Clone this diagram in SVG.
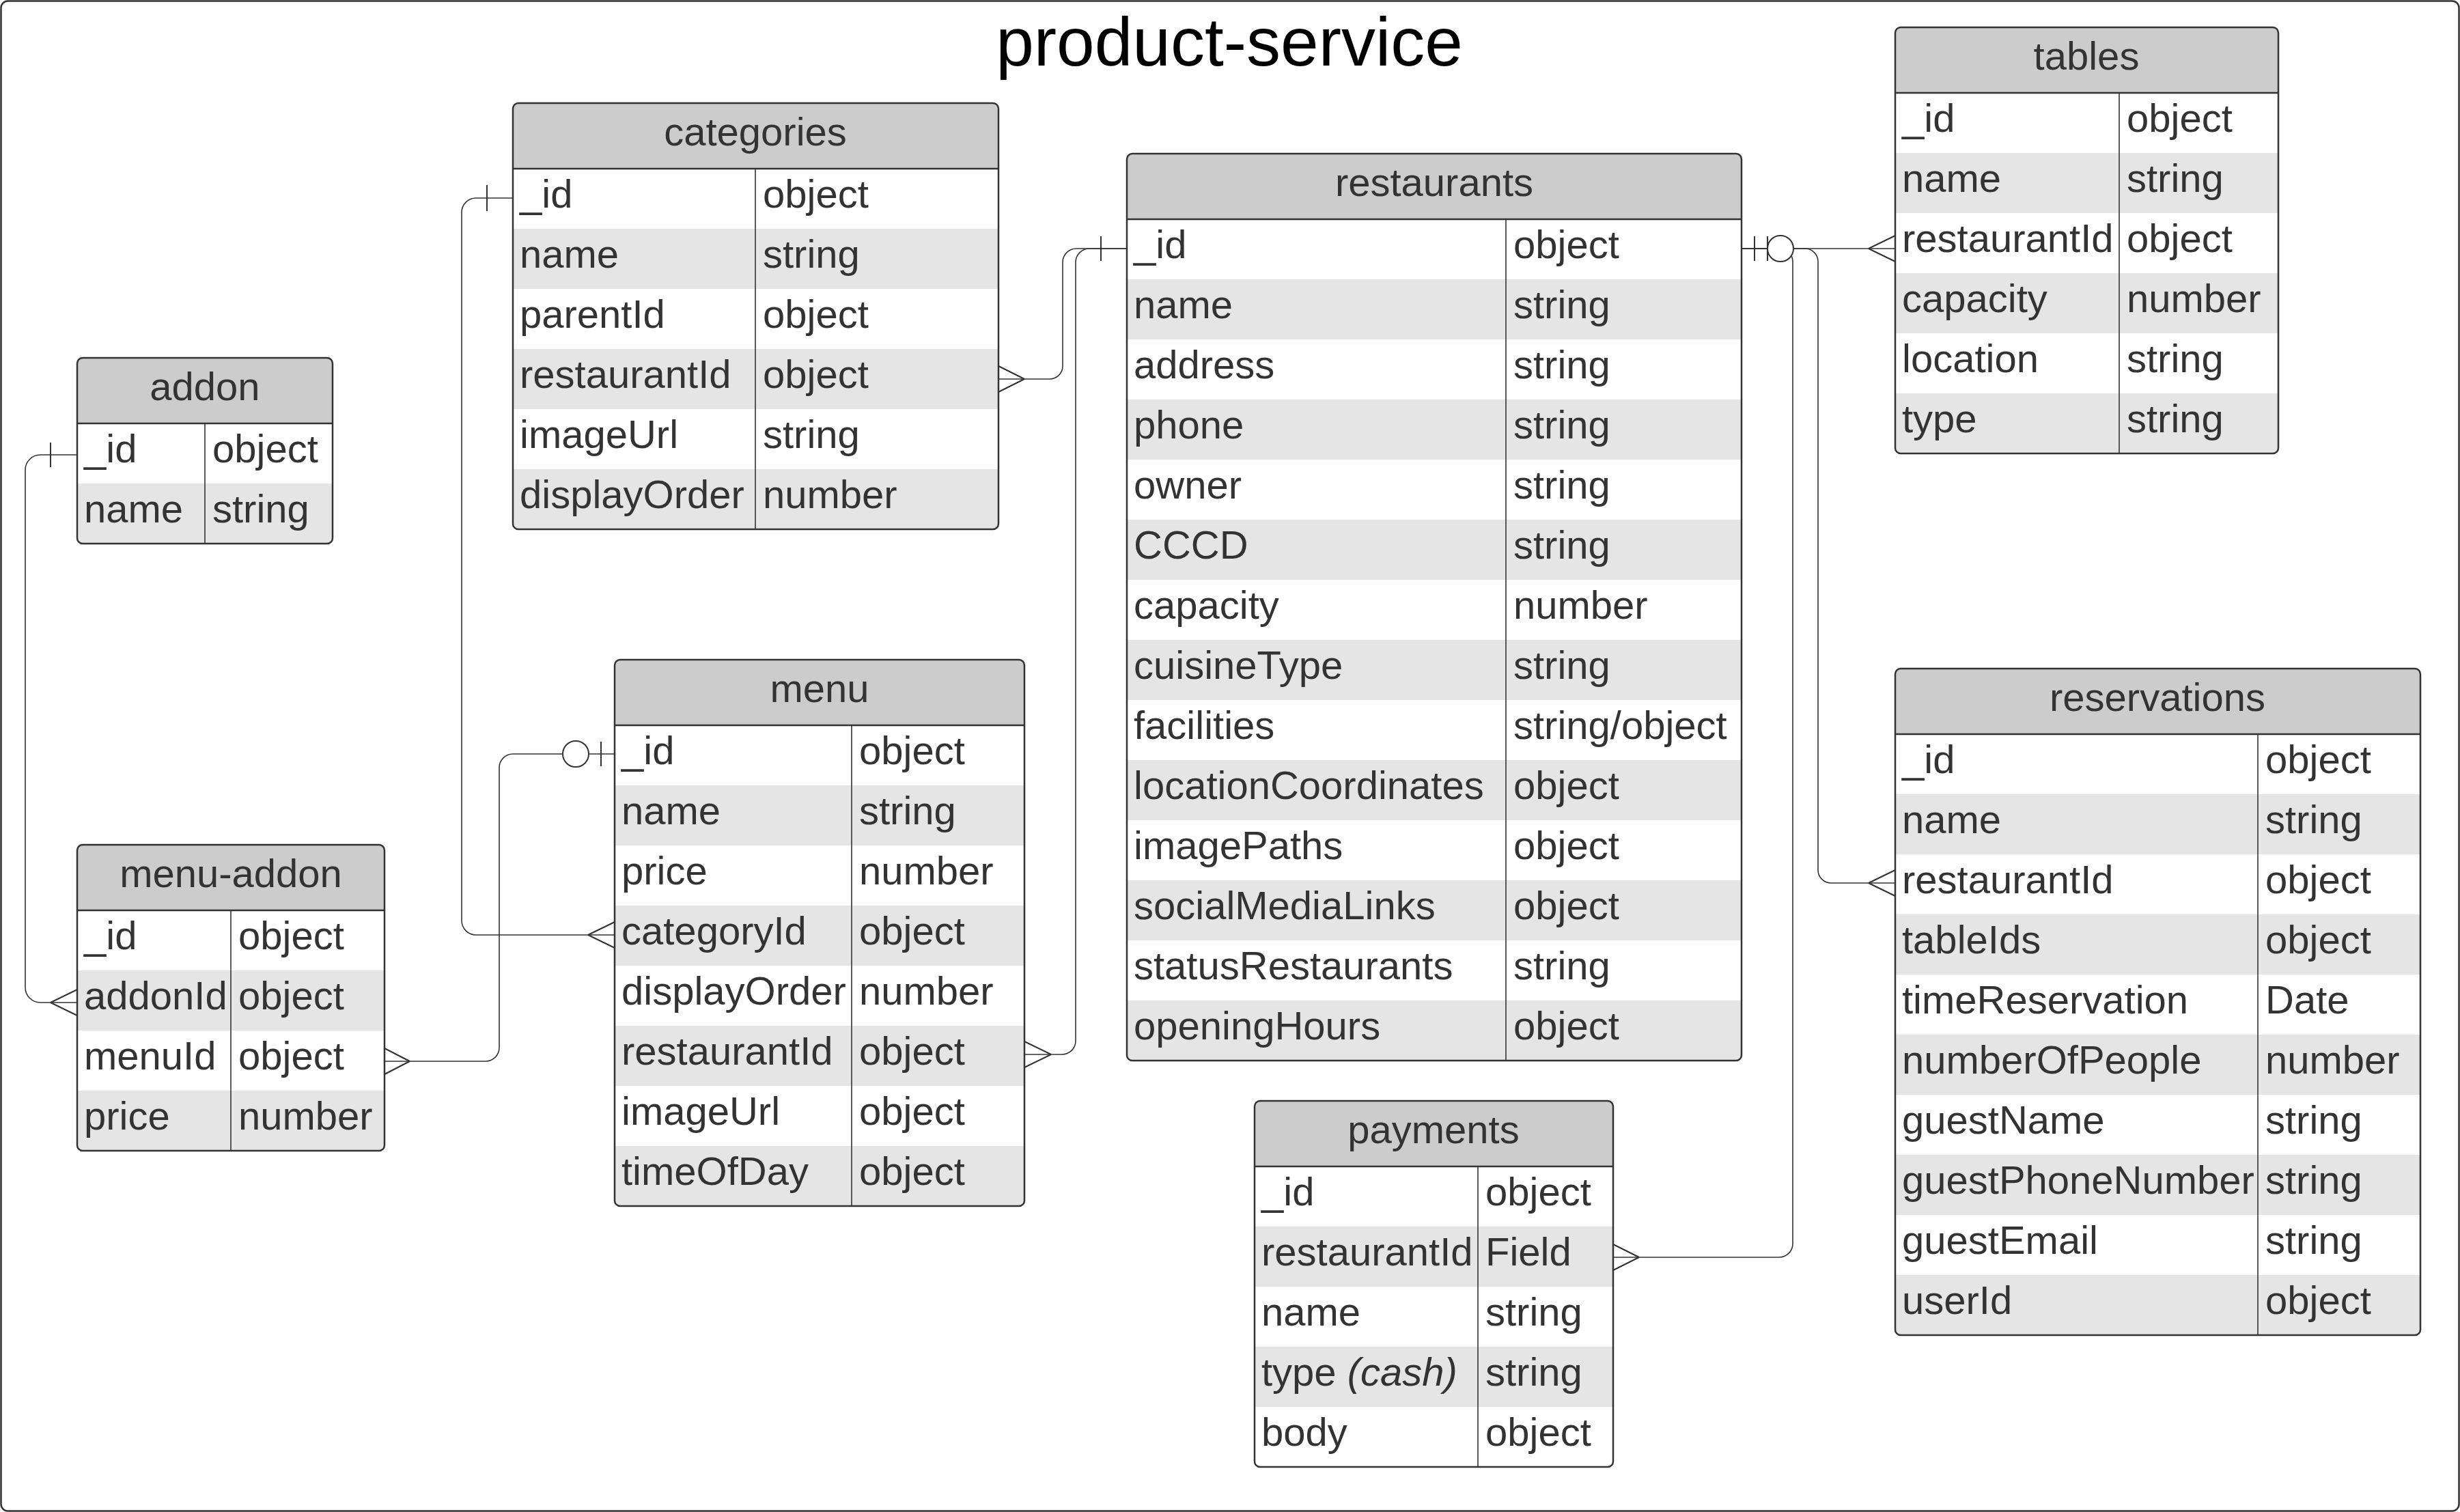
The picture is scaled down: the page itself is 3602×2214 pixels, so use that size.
<svg xmlns="http://www.w3.org/2000/svg" width="3602" height="2214" viewBox="0 0 3602 2214">
<style>
.tb{fill:#fff}
.hd{fill:#ccc}
.alt{fill:#e5e5e5}
.ol{fill:none;stroke:#333;stroke-width:2.5}
.ln{fill:none;stroke:#333;stroke-width:2.5}
.dv{fill:none;stroke:#333;stroke-width:1.6}
.t{font-family:"Liberation Sans",Arial,sans-serif;font-size:58px;fill:#333}
.h{text-anchor:middle}
.c{fill:none;stroke:#333;stroke-width:1.6}
.m{fill:none;stroke:#333;stroke-width:2}
.o{fill:#fff;stroke:#333;stroke-width:2}
</style>
<rect width="3602" height="2214" fill="#fff"/>
<rect x="1.5" y="1.5" width="3599" height="2211" rx="10" fill="none" stroke="#333" stroke-width="2.5"/>
<text x="1800" y="96" font-family="'Liberation Sans',Arial,sans-serif" font-size="100" text-anchor="middle" fill="#000">product-service</text>

<g id="addon" transform="translate(113,524)">
<rect class="tb" width="374" height="272" rx="8"/>
<path class="hd" d="M0,96V8A8,8 0 0 1 8,0H366A8,8 0 0 1 374,8V96Z"/>
<path class="alt" d="M0,184H374V264A8,8 0 0 1 366,272H8A8,8 0 0 1 0,264Z"/>
<path class="ln" d="M0,96H374"/>
<path class="dv" d="M187,96V272"/>
<rect class="ol" width="374" height="272" rx="8"/>
<text class="t h" x="187" y="62">addon</text>
<text class="t" x="10" y="153">_id</text><text class="t" x="198" y="153">object</text>
<text class="t" x="10" y="241">name</text><text class="t" x="198" y="241">string</text>
</g>

<g id="categories" transform="translate(751,151)">
<rect class="tb" width="711" height="624" rx="8"/>
<path class="hd" d="M0,96V8A8,8 0 0 1 8,0H703A8,8 0 0 1 711,8V96Z"/>
<rect class="alt" y="184" width="711" height="88"/>
<rect class="alt" y="360" width="711" height="88"/>
<path class="alt" d="M0,536H711V616A8,8 0 0 1 703,624H8A8,8 0 0 1 0,616Z"/>
<path class="ln" d="M0,96H711"/>
<path class="dv" d="M355,96V624"/>
<rect class="ol" width="711" height="624" rx="8"/>
<text class="t h" x="355" y="62">categories</text>
<text class="t" x="10" y="153">_id</text><text class="t" x="366" y="153">object</text>
<text class="t" x="10" y="241">name</text><text class="t" x="366" y="241">string</text>
<text class="t" x="10" y="329">parentId</text><text class="t" x="366" y="329">object</text>
<text class="t" x="10" y="417">restaurantId</text><text class="t" x="366" y="417">object</text>
<text class="t" x="10" y="505">imageUrl</text><text class="t" x="366" y="505">string</text>
<text class="t" x="10" y="593">displayOrder</text><text class="t" x="366" y="593">number</text>
</g>

<g id="restaurants" transform="translate(1650,225)">
<rect class="tb" width="900" height="1328" rx="8"/>
<path class="hd" d="M0,96V8A8,8 0 0 1 8,0H892A8,8 0 0 1 900,8V96Z"/>
<rect class="alt" y="184" width="900" height="88"/>
<rect class="alt" y="360" width="900" height="88"/>
<rect class="alt" y="536" width="900" height="88"/>
<rect class="alt" y="712" width="900" height="88"/>
<rect class="alt" y="888" width="900" height="88"/>
<rect class="alt" y="1064" width="900" height="88"/>
<path class="alt" d="M0,1240H900V1320A8,8 0 0 1 892,1328H8A8,8 0 0 1 0,1320Z"/>
<path class="ln" d="M0,96H900"/>
<path class="dv" d="M555,96V1328"/>
<rect class="ol" width="900" height="1328" rx="8"/>
<text class="t h" x="450" y="62">restaurants</text>
<text class="t" x="10" y="153">_id</text><text class="t" x="566" y="153">object</text>
<text class="t" x="10" y="241">name</text><text class="t" x="566" y="241">string</text>
<text class="t" x="10" y="329">address</text><text class="t" x="566" y="329">string</text>
<text class="t" x="10" y="417">phone</text><text class="t" x="566" y="417">string</text>
<text class="t" x="10" y="505">owner</text><text class="t" x="566" y="505">string</text>
<text class="t" x="10" y="593">CCCD</text><text class="t" x="566" y="593">string</text>
<text class="t" x="10" y="681">capacity</text><text class="t" x="566" y="681">number</text>
<text class="t" x="10" y="769">cuisineType</text><text class="t" x="566" y="769">string</text>
<text class="t" x="10" y="857">facilities</text><text class="t" x="566" y="857">string/object</text>
<text class="t" x="10" y="945">locationCoordinates</text><text class="t" x="566" y="945">object</text>
<text class="t" x="10" y="1033">imagePaths</text><text class="t" x="566" y="1033">object</text>
<text class="t" x="10" y="1121">socialMediaLinks</text><text class="t" x="566" y="1121">object</text>
<text class="t" x="10" y="1209">statusRestaurants</text><text class="t" x="566" y="1209">string</text>
<text class="t" x="10" y="1297">openingHours</text><text class="t" x="566" y="1297">object</text>
</g>

<g id="tables" transform="translate(2775,40)">
<rect class="tb" width="561" height="624" rx="8"/>
<path class="hd" d="M0,96V8A8,8 0 0 1 8,0H553A8,8 0 0 1 561,8V96Z"/>
<rect class="alt" y="184" width="561" height="88"/>
<rect class="alt" y="360" width="561" height="88"/>
<path class="alt" d="M0,536H561V616A8,8 0 0 1 553,624H8A8,8 0 0 1 0,616Z"/>
<path class="ln" d="M0,96H561"/>
<path class="dv" d="M328,96V624"/>
<rect class="ol" width="561" height="624" rx="8"/>
<text class="t h" x="280" y="62">tables</text>
<text class="t" x="10" y="153">_id</text><text class="t" x="339" y="153">object</text>
<text class="t" x="10" y="241">name</text><text class="t" x="339" y="241">string</text>
<text class="t" x="10" y="329">restaurantId</text><text class="t" x="339" y="329">object</text>
<text class="t" x="10" y="417">capacity</text><text class="t" x="339" y="417">number</text>
<text class="t" x="10" y="505">location</text><text class="t" x="339" y="505">string</text>
<text class="t" x="10" y="593">type</text><text class="t" x="339" y="593">string</text>
</g>

<g id="menu" transform="translate(900,966)">
<rect class="tb" width="600" height="800" rx="8"/>
<path class="hd" d="M0,96V8A8,8 0 0 1 8,0H592A8,8 0 0 1 600,8V96Z"/>
<rect class="alt" y="184" width="600" height="88"/>
<rect class="alt" y="360" width="600" height="88"/>
<rect class="alt" y="536" width="600" height="88"/>
<path class="alt" d="M0,712H600V792A8,8 0 0 1 592,800H8A8,8 0 0 1 0,792Z"/>
<path class="ln" d="M0,96H600"/>
<path class="dv" d="M347,96V800"/>
<rect class="ol" width="600" height="800" rx="8"/>
<text class="t h" x="300" y="62">menu</text>
<text class="t" x="10" y="153">_id</text><text class="t" x="358" y="153">object</text>
<text class="t" x="10" y="241">name</text><text class="t" x="358" y="241">string</text>
<text class="t" x="10" y="329">price</text><text class="t" x="358" y="329">number</text>
<text class="t" x="10" y="417">categoryId</text><text class="t" x="358" y="417">object</text>
<text class="t" x="10" y="505">displayOrder</text><text class="t" x="358" y="505">number</text>
<text class="t" x="10" y="593">restaurantId</text><text class="t" x="358" y="593">object</text>
<text class="t" x="10" y="681">imageUrl</text><text class="t" x="358" y="681">object</text>
<text class="t" x="10" y="769">timeOfDay</text><text class="t" x="358" y="769">object</text>
</g>

<g id="menu-addon" transform="translate(113,1237)">
<rect class="tb" width="450" height="448" rx="8"/>
<path class="hd" d="M0,96V8A8,8 0 0 1 8,0H442A8,8 0 0 1 450,8V96Z"/>
<rect class="alt" y="184" width="450" height="88"/>
<path class="alt" d="M0,360H450V440A8,8 0 0 1 442,448H8A8,8 0 0 1 0,440Z"/>
<path class="ln" d="M0,96H450"/>
<path class="dv" d="M225,96V448"/>
<rect class="ol" width="450" height="448" rx="8"/>
<text class="t h" x="225" y="62">menu-addon</text>
<text class="t" x="10" y="153">_id</text><text class="t" x="236" y="153">object</text>
<text class="t" x="10" y="241">addonId</text><text class="t" x="236" y="241">object</text>
<text class="t" x="10" y="329">menuId</text><text class="t" x="236" y="329">object</text>
<text class="t" x="10" y="417">price</text><text class="t" x="236" y="417">number</text>
</g>

<g id="payments" transform="translate(1837,1612)">
<rect class="tb" width="525" height="536" rx="8"/>
<path class="hd" d="M0,96V8A8,8 0 0 1 8,0H517A8,8 0 0 1 525,8V96Z"/>
<rect class="alt" y="184" width="525" height="88"/>
<rect class="alt" y="360" width="525" height="88"/>
<path class="ln" d="M0,96H525"/>
<path class="dv" d="M327,96V536"/>
<rect class="ol" width="525" height="536" rx="8"/>
<text class="t h" x="262" y="62">payments</text>
<text class="t" x="10" y="153">_id</text><text class="t" x="338" y="153">object</text>
<text class="t" x="10" y="241">restaurantId</text><text class="t" x="338" y="241">Field</text>
<text class="t" x="10" y="329">name</text><text class="t" x="338" y="329">string</text>
<text class="t" x="10" y="417">type <tspan font-style="italic">(cash)</tspan></text><text class="t" x="338" y="417">string</text>
<text class="t" x="10" y="505">body</text><text class="t" x="338" y="505">object</text>
</g>

<g id="reservations" transform="translate(2775,979)">
<rect class="tb" width="769" height="976" rx="8"/>
<path class="hd" d="M0,96V8A8,8 0 0 1 8,0H761A8,8 0 0 1 769,8V96Z"/>
<rect class="alt" y="184" width="769" height="88"/>
<rect class="alt" y="360" width="769" height="88"/>
<rect class="alt" y="536" width="769" height="88"/>
<rect class="alt" y="712" width="769" height="88"/>
<path class="alt" d="M0,888H769V968A8,8 0 0 1 761,976H8A8,8 0 0 1 0,968Z"/>
<path class="ln" d="M0,96H769"/>
<path class="dv" d="M531,96V976"/>
<rect class="ol" width="769" height="976" rx="8"/>
<text class="t h" x="384" y="62">reservations</text>
<text class="t" x="10" y="153">_id</text><text class="t" x="542" y="153">object</text>
<text class="t" x="10" y="241">name</text><text class="t" x="542" y="241">string</text>
<text class="t" x="10" y="329">restaurantId</text><text class="t" x="542" y="329">object</text>
<text class="t" x="10" y="417">tableIds</text><text class="t" x="542" y="417">object</text>
<text class="t" x="10" y="505">timeReservation</text><text class="t" x="542" y="505">Date</text>
<text class="t" x="10" y="593">numberOfPeople</text><text class="t" x="542" y="593">number</text>
<text class="t" x="10" y="681">guestName</text><text class="t" x="542" y="681">string</text>
<text class="t" x="10" y="769">guestPhoneNumber</text><text class="t" x="542" y="769">string</text>
<text class="t" x="10" y="857">guestEmail</text><text class="t" x="542" y="857">string</text>
<text class="t" x="10" y="945">userId</text><text class="t" x="542" y="945">object</text>
</g>

<g id="connectors">
<path class="c" d="M113,666H59A22,22 0 0 0 37,688V1446A22,22 0 0 0 59,1468H113"/>
<path class="m" d="M74,648V684M74,1468L113,1449M74,1468L113,1487"/>

<path class="c" d="M751,290H697A21,21 0 0 0 676,311V1348A21,21 0 0 0 697,1369H900"/>
<path class="m" d="M713,271V309M861,1369L900,1350M861,1369L900,1388"/>

<path class="c" d="M900,1104H751A20,20 0 0 0 731,1124V1534A20,20 0 0 1 711,1554H563"/>
<path class="m" d="M880,1086V1122M600,1554L563,1535M600,1554L563,1573"/>
<circle class="o" cx="843" cy="1104" r="19"/>

<path class="c" d="M1462,555H1537A19,19 0 0 0 1556,536V384A20,20 0 0 1 1576,364H1650"/>
<path class="m" d="M1500,555L1462,536M1500,555L1462,574"/>

<path class="c" d="M1500,1544H1555A20,20 0 0 0 1575,1524V384A20,20 0 0 1 1595,364H1650"/>
<path class="m" d="M1539,1544L1500,1525M1539,1544L1500,1563M1612,346V382"/>

<path class="c" d="M2550,364H2775"/>
<path class="m" d="M2736,364L2775,345M2736,364L2775,383"/>

<path class="c" d="M2550,364H2643A19,19 0 0 1 2662,383V1274A19,19 0 0 0 2681,1293H2775"/>
<path class="m" d="M2736,1293L2775,1274M2736,1293L2775,1312"/>

<path class="c" d="M2550,364H2606A19,19 0 0 1 2625,383V1821A20,20 0 0 1 2605,1841H2362"/>
<path class="m" d="M2400,1841L2362,1822M2400,1841L2362,1860"/>

<path class="m" d="M2569,346V382M2588,346V382"/>
<circle class="o" cx="2607" cy="364" r="19"/>
</g>
</svg>
